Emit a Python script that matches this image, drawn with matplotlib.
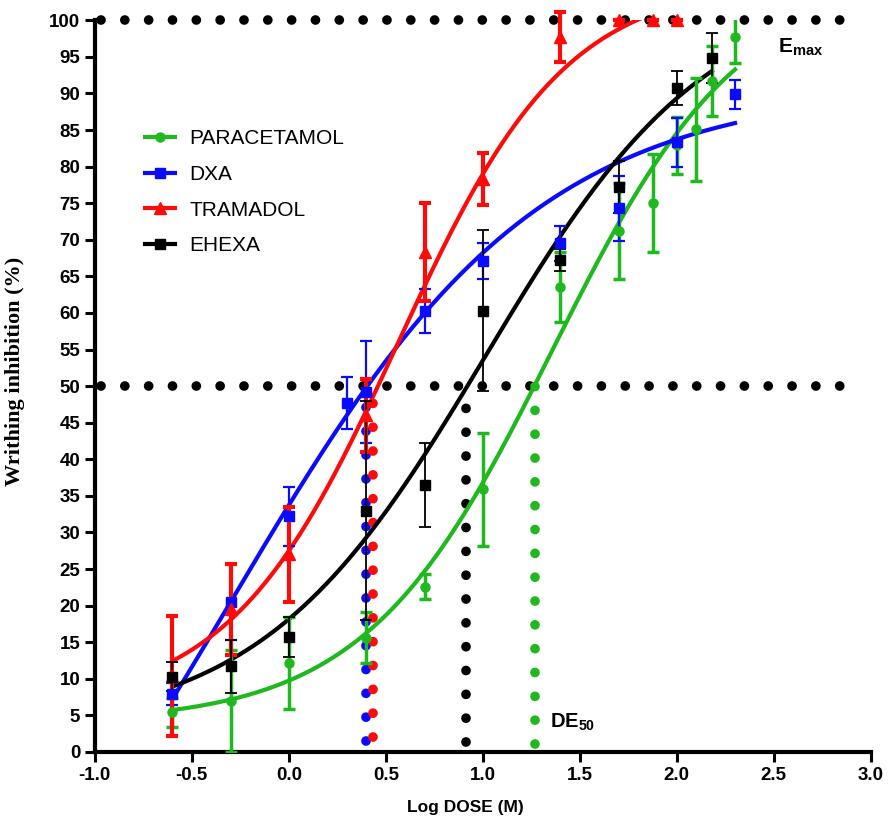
import numpy as np
import matplotlib.pyplot as plt
from matplotlib.lines import Line2D
from matplotlib.ticker import FormatStrFormatter, MultipleLocator

plt.rcParams['font.family'] = ['Liberation Sans', 'DejaVu Sans']
plt.rcParams['axes.unicode_minus'] = False
plt.rcParams['mathtext.fontset'] = 'custom'
plt.rcParams['mathtext.rm'] = 'Liberation Sans'
plt.rcParams['mathtext.bf'] = 'Liberation Sans:bold'

# Mean writhing inhibition (%) and error per log dose
para_x = [-0.6, -0.3, 0.0, 0.4, 0.7, 1.0, 1.4, 1.7, 1.875, 2.0, 2.1, 2.18, 2.3]
para_y = [5.4, 7.0, 12.2, 15.6, 22.6, 35.9, 63.5, 71.2, 75.0, 82.9, 85.1, 91.7, 97.7]
para_err = [2.0, 7.0, 6.3, 3.5, 1.7, 7.7, 4.8, 6.5, 6.7, 3.9, 7.0, 4.8, 3.5]

dxa_x = [-0.6, -0.3, 0.0, 0.3, 0.4, 0.7, 1.0, 1.4, 1.7, 2.0, 2.3]
dxa_y = [7.9, 20.5, 32.2, 47.7, 49.2, 60.3, 67.1, 69.5, 74.3, 83.3, 89.9]
dxa_err = [1.5, 5.2, 4.0, 3.5, 7.0, 3.0, 2.4, 2.4, 4.4, 3.3, 2.0]

tram_x = [-0.6, -0.3, 0.0, 0.4, 0.7, 1.0, 1.4, 1.7, 1.875, 2.0]
tram_y = [10.4, 19.5, 27.0, 46.0, 68.3, 78.3, 97.7, 100, 100, 100]
tram_err = [8.2, 6.2, 6.5, 5.0, 6.7, 3.6, 3.4, 0, 0, 0]

ehexa_x = [-0.6, -0.3, 0.0, 0.4, 0.7, 1.0, 1.4, 1.7, 2.0, 2.18]
ehexa_y = [10.3, 11.7, 15.7, 33.0, 36.5, 60.3, 67.3, 77.2, 90.7, 94.8]
ehexa_err = [2.0, 3.6, 2.7, 15.0, 5.7, 11.0, 1.5, 3.5, 2.3, 3.4]

# Hill fit parameters: bottom, top, logDE50 (curve centre), hill slope
para_fit = [4.0, 106.0, 1.36, 0.9]
dxa_fit = [-50.0, 91.0, -0.3, 0.55]
tram_fit = [6.0, 105.5, 0.56, 1.0]
ehexa_fit = [3.0, 105.0, 1.011, 0.75]

# DE50 markers (log dose): DXA, TRAMADOL, EHEXA, PARACETAMOL
de50_x = [0.397, 0.435, 0.912, 1.268]
de50_bottom = [1.5, 2.0, 1.3, 1.1]
de50_top = [47.5, 47.8, 47.0, 50.0]
emax = 100
half = 50

names = ['PARACETAMOL', 'DXA', 'TRAMADOL', 'EHEXA']
colors = ['#1fb81f', '#0a0aff', '#ff0a0a', '#000000']
markers = ['o', 's', '^', 's']
msizes = [6.5, 6.5, 8, 6.5]
elw = [2.5, 1.6, 3.0, 1.3]
clips = [True, True, False, True]


def hill(x, p):
    b, t, c, h = p
    return b + (t - b) / (1 + 10 ** (h * (c - x)))


fig = plt.figure(figsize=(8.95, 8.24), dpi=100)
ax = fig.add_axes([0.106, 0.0874, 0.867, 0.888])

# dotted reference lines
dot = dict(ls=(0, (0.001, 2.45)), lw=7, dash_capstyle='round', color='k',
           clip_on=False, zorder=1)
ax.plot([-0.97, 2.86], [emax, emax], **dot)
ax.plot([-0.97, 2.84], [half, half], **dot)
for xv, y0, y1, c in zip(de50_x, de50_bottom, de50_top,
                         [colors[1], colors[2], colors[3], colors[0]]):
    d = dict(dot)
    d['color'] = c
    ax.plot([xv, xv], [y0, y1], **d)

series = [(para_x, para_y, para_err, para_fit),
          (dxa_x, dxa_y, dxa_err, dxa_fit),
          (tram_x, tram_y, tram_err, tram_fit),
          (ehexa_x, ehexa_y, ehexa_err, ehexa_fit)]

for i, (xs, ys, es, fit) in enumerate(series):
    xx = np.linspace(min(xs), max(xs), 300)
    ax.plot(xx, hill(xx, fit), color=colors[i], lw=3, zorder=3)
    ax.errorbar(xs, ys, yerr=es, fmt=markers[i], color=colors[i], ms=msizes[i],
                elinewidth=elw[i], capsize=4.5, capthick=elw[i], zorder=4,
                clip_on=clips[i])

handles = [Line2D([], [], color=colors[i], lw=3, marker=markers[i], ms=msizes[i])
           for i in range(4)]
ax.legend(handles, names, loc='upper left', bbox_to_anchor=(0.064, 0.851), frameon=False,
          fontsize=15, handlelength=1.45, handletextpad=0.72, labelspacing=0.8,
          borderpad=0, borderaxespad=0)

ax.text(2.52, 96.3, r'$\mathbf{E}_{\mathbf{max}}$', fontsize=15, va='center')
ax.text(1.345, 4.1, r'$\mathbf{DE}_{\mathbf{50}}$', fontsize=14.5, va='center')

ax.set_xlim(-1.0, 3.0)
ax.set_ylim(0, 100)
ax.xaxis.set_major_locator(MultipleLocator(0.5))
ax.xaxis.set_major_formatter(FormatStrFormatter('%.1f'))
ax.yaxis.set_major_locator(MultipleLocator(5))
for s in ['top', 'right']:
    ax.spines[s].set_visible(False)
for s in ['left', 'bottom']:
    ax.spines[s].set_linewidth(3)
ax.tick_params(width=2.2, length=7, labelsize=13.5)
for lab in ax.get_xticklabels() + ax.get_yticklabels():
    lab.set_fontweight('bold')

ax.set_xlabel('Log DOSE (M)', fontsize=12.5, fontweight='bold')
ax.xaxis.set_label_coords(0.477, -0.066)
ax.set_ylabel('Writhing inhibition (%)', family='Liberation Serif', fontsize=16,
              fontweight='bold')
ax.yaxis.set_label_coords(-0.09, 0.52)

fig.savefig('out.png', dpi=100)
